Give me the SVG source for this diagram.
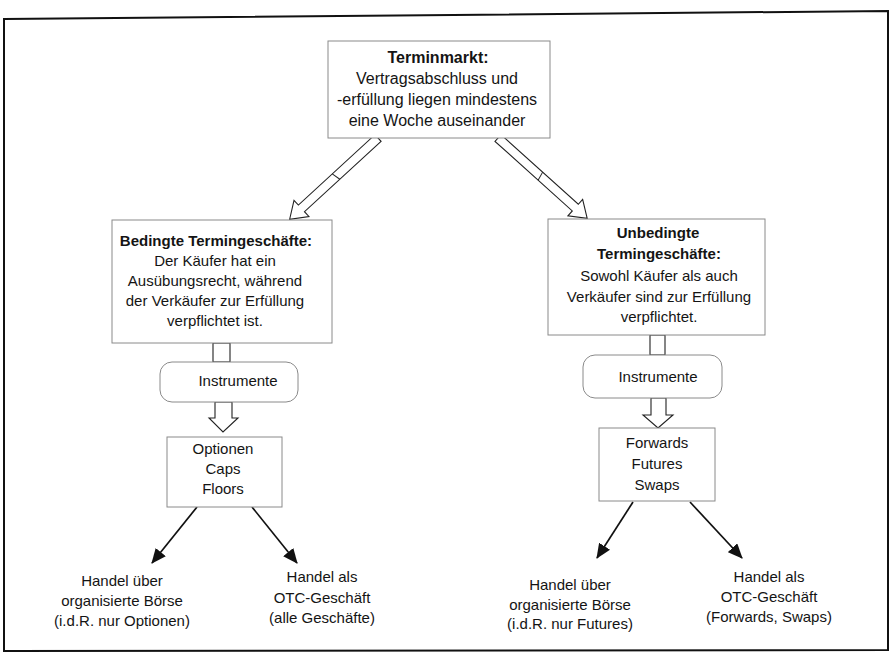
<svg xmlns="http://www.w3.org/2000/svg" width="892" height="656" viewBox="0 0 892 656">
<defs>
<style>
.t{font-family:"Liberation Sans",Arial,Helvetica,sans-serif;font-size:15px;fill:#141414;text-anchor:middle}
.tb{font-weight:bold}
.big{font-size:16px}
.box{fill:#fff;stroke:#8a8a8a;stroke-width:1}
.hollow{fill:#fff;stroke:#222;stroke-width:1.1;stroke-linejoin:miter}
.arr{stroke:#111;stroke-width:1.7;fill:none}
</style>
<marker id="ah" markerUnits="userSpaceOnUse" markerWidth="15" markerHeight="13" refX="14" refY="6.5" orient="auto">
<path d="M0,0 L15,6.5 L0,13 Z" fill="#111"/>
</marker>
</defs>
<rect width="892" height="656" fill="#fff"/>
<polygon points="4,19 888,11 888,650 4,651" fill="none" stroke="#111" stroke-width="2"/>

<g id="connectors">
<g transform="translate(378,138) rotate(137.4)">
<polygon class="hollow" points="0,-4.5 104,-4.5 104,-11 120,0 104,11 104,4.5 0,4.5"/>
<line x1="56" y1="-4.5" x2="58" y2="4.5" stroke="#222" stroke-width="1"/>
</g>
<g transform="translate(498,138) rotate(42)">
<polygon class="hollow" points="0,-4.5 104,-4.5 104,-11 120,0 104,11 104,4.5 0,4.5"/>
<line x1="56" y1="-4.5" x2="58" y2="4.5" stroke="#222" stroke-width="1"/>
</g>
<rect class="hollow" x="213" y="343" width="17" height="19"/>
<rect class="hollow" x="650" y="335" width="15" height="20"/>
<polygon class="hollow" points="215,402 232,402 232,418 238,418 223,432 209,418 215,418"/>
<polygon class="hollow" points="651,398 666,398 666,415 673,415 658,428 643,415 651,415"/>
<line class="arr" x1="197" y1="507" x2="152" y2="563" marker-end="url(#ah)"/>
<line class="arr" x1="252" y1="507" x2="297" y2="563" marker-end="url(#ah)"/>
<line class="arr" x1="633" y1="502" x2="597" y2="558" marker-end="url(#ah)"/>
<line class="arr" x1="690" y1="502" x2="742" y2="558" marker-end="url(#ah)"/>
</g>

<g id="terminmarkt">
<rect class="box" x="328" y="41" width="222" height="97"/>
<text class="t tb big" x="438" y="63">Terminmarkt:</text>
<text class="t big" x="437" y="84">Vertragsabschluss und</text>
<text class="t big" x="437" y="105">-erfüllung liegen mindestens</text>
<text class="t big" x="437" y="126">eine Woche auseinander</text>
</g>

<g id="bedingte">
<rect class="box" x="112" y="220" width="220" height="123"/>
<text class="t tb" x="216" y="246">Bedingte Termingeschäfte:</text>
<text class="t" x="215" y="266">Der Käufer hat ein</text>
<text class="t" x="215" y="286">Ausübungsrecht, während</text>
<text class="t" x="215" y="306">der Verkäufer zur Erfüllung</text>
<text class="t" x="215" y="326">verpflichtet ist.</text>
</g>

<g id="unbedingte">
<rect class="box" x="548" y="219" width="217" height="116"/>
<text class="t tb" x="658" y="238">Unbedingte</text>
<text class="t tb" x="659" y="259">Termingeschäfte:</text>
<text class="t" x="659" y="281">Sowohl Käufer als auch</text>
<text class="t" x="659" y="302">Verkäufer sind zur Erfüllung</text>
<text class="t" x="659" y="322">verpflichtet.</text>
</g>

<g id="instrumente-links">
<rect class="box" x="160" y="362" width="138" height="40" rx="12"/>
<text class="t" x="238" y="386">Instrumente</text>
</g>

<g id="instrumente-rechts">
<rect class="box" x="583" y="355" width="139" height="43" rx="12"/>
<text class="t" x="658" y="382">Instrumente</text>
</g>

<g id="optionen">
<rect class="box" x="167" y="437" width="115" height="70"/>
<text class="t" x="223" y="454">Optionen</text>
<text class="t" x="223" y="474">Caps</text>
<text class="t" x="223" y="494">Floors</text>
</g>

<g id="forwards">
<rect class="box" x="599" y="428" width="116" height="73"/>
<text class="t" x="657" y="448">Forwards</text>
<text class="t" x="657" y="469">Futures</text>
<text class="t" x="657" y="490">Swaps</text>
</g>

<g id="boerse-links">
<text class="t" x="122" y="586">Handel über</text>
<text class="t" x="122" y="606">organisierte Börse</text>
<text class="t" x="122" y="626">(i.d.R. nur Optionen)</text>
</g>

<g id="otc-links">
<text class="t" x="322" y="582">Handel als</text>
<text class="t" x="322" y="603">OTC-Geschäft</text>
<text class="t" x="322" y="623">(alle Geschäfte)</text>
</g>

<g id="boerse-rechts">
<text class="t" x="570" y="590">Handel über</text>
<text class="t" x="570" y="610">organisierte Börse</text>
<text class="t" x="570" y="629">(i.d.R. nur Futures)</text>
</g>

<g id="otc-rechts">
<text class="t" x="769" y="582">Handel als</text>
<text class="t" x="769" y="602">OTC-Geschäft</text>
<text class="t" x="769" y="622">(Forwards, Swaps)</text>
</g>
</svg>
